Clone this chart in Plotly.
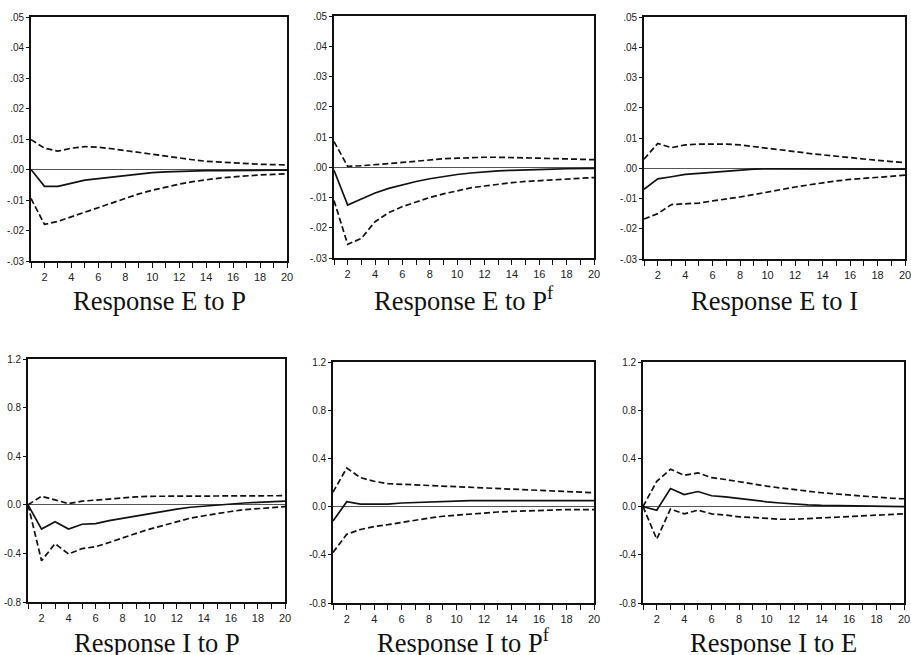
import plotly.graph_objects as go

periods = list(range(1, 21))

# Response E to P
ep_resp = [0.0, -0.0055, -0.0055, -0.0045, -0.0035, -0.003, -0.0025, -0.002, -0.0015, -0.001,
           -0.0008, -0.0006, -0.0005, -0.0004, -0.0004, -0.0003, -0.0003, -0.0002, -0.0002, -0.0002]
ep_upper = [0.0098, 0.007, 0.006, 0.007, 0.0075, 0.0073, 0.0068, 0.0062, 0.0055, 0.0048,
            0.0042, 0.0037, 0.0032, 0.0027, 0.0024, 0.0021, 0.0019, 0.0017, 0.0016, 0.0015]
ep_lower = [-0.0095, -0.018, -0.017, -0.0155, -0.014, -0.0125, -0.011, -0.0095, -0.008, -0.0068,
            -0.0057, -0.0048, -0.004, -0.0033, -0.0028, -0.0024, -0.002, -0.0018, -0.0016, -0.0014]

# Response E to Pf
epf_resp = [-0.001, -0.0125, -0.0105, -0.0085, -0.007, -0.0058, -0.0047, -0.0038, -0.003, -0.0024,
            -0.0019, -0.0015, -0.0012, -0.001, -0.0008, -0.0007, -0.0006, -0.0005, -0.0005, -0.0004]
epf_upper = [0.0085, 0.0003, 0.0005, 0.0008, 0.0012, 0.0016, 0.002, 0.0025, 0.0028, 0.003,
             0.0032, 0.0033, 0.0033, 0.0033, 0.0031, 0.003, 0.0029, 0.0028, 0.0026, 0.0025]
epf_lower = [-0.011, -0.0255, -0.0235, -0.018, -0.015, -0.013, -0.0115, -0.01, -0.0088, -0.0077,
             -0.0068, -0.0062, -0.0056, -0.0051, -0.0047, -0.0044, -0.0041, -0.0038, -0.0036, -0.0034]

# Response E to I
ei_resp = [-0.007, -0.0035, -0.0028, -0.002, -0.0017, -0.0013, -0.001, -0.0006, -0.0003, -0.0002,
           -0.0002, -0.0002, -0.0002, -0.0002, -0.0002, -0.0003, -0.0003, -0.0003, -0.0003, -0.0003]
ei_upper = [0.003, 0.0082, 0.0068, 0.0077, 0.008, 0.008, 0.008, 0.0077, 0.0072, 0.0066,
            0.006, 0.0055, 0.0049, 0.0044, 0.0039, 0.0034, 0.003, 0.0026, 0.0022, 0.0019]
ei_lower = [-0.0168, -0.015, -0.012, -0.0117, -0.0115, -0.0108, -0.0102, -0.0095, -0.0087, -0.0078,
            -0.007, -0.0062, -0.0055, -0.0048, -0.0042, -0.0037, -0.0033, -0.0029, -0.0026, -0.0023]

# Response I to P
ip_resp = [0.0, -0.2, -0.14, -0.2, -0.16, -0.155, -0.13, -0.11, -0.09, -0.07,
           -0.05, -0.035, -0.02, -0.01, 0.0, 0.01, 0.015, 0.02, 0.025, 0.03]
ip_upper = [0.0, 0.07, 0.04, 0.01, 0.03, 0.04, 0.05, 0.06, 0.065, 0.07,
            0.07, 0.07, 0.07, 0.07, 0.07, 0.07, 0.07, 0.07, 0.072, 0.075]
ip_lower = [0.0, -0.46, -0.32, -0.405, -0.36, -0.345, -0.31, -0.27, -0.235, -0.2,
            -0.17, -0.14, -0.11, -0.09, -0.07, -0.055, -0.04, -0.03, -0.02, -0.015]

# Response I to Pf
ipf_resp = [-0.12, 0.04, 0.02, 0.02, 0.02, 0.03, 0.035, 0.04, 0.045, 0.05,
            0.05, 0.05, 0.05, 0.05, 0.05, 0.05, 0.05, 0.05, 0.05, 0.05]
ipf_upper = [0.12, 0.32, 0.24, 0.21, 0.19, 0.185, 0.18, 0.175, 0.17, 0.165,
             0.16, 0.155, 0.15, 0.145, 0.14, 0.135, 0.13, 0.125, 0.12, 0.115]
ipf_lower = [-0.38, -0.23, -0.19, -0.165, -0.15, -0.13, -0.11, -0.095, -0.08, -0.07,
             -0.06, -0.05, -0.045, -0.04, -0.035, -0.03, -0.03, -0.025, -0.025, -0.025]

# Response I to E
ie_resp = [0.0, -0.03, 0.15, 0.1, 0.125, 0.09, 0.08, 0.065, 0.05, 0.04,
           0.03, 0.02, 0.015, 0.01, 0.008, 0.005, 0.003, 0.002, 0.001, 0.0]
ie_upper = [0.0, 0.21, 0.31, 0.26, 0.28, 0.24, 0.225, 0.205, 0.19, 0.17,
            0.155, 0.14, 0.125, 0.115, 0.105, 0.095, 0.085, 0.075, 0.07, 0.065]
ie_lower = [0.0, -0.27, -0.02, -0.06, -0.03, -0.06, -0.07, -0.085, -0.09, -0.1,
            -0.105, -0.105, -0.1, -0.095, -0.09, -0.08, -0.075, -0.07, -0.065, -0.06]

top_ticks = [0.05, 0.04, 0.03, 0.02, 0.01, 0.0, -0.01, -0.02, -0.03]
top_labels = [".05", ".04", ".03", ".02", ".01", ".00", "-.01", "-.02", "-.03"]
bot_ticks = [1.2, 0.8, 0.4, 0.0, -0.4, -0.8]
bot_labels = ["1.2", "0.8", "0.4", "0.0", "-0.4", "-0.8"]
x_labels = [str(p) if p % 2 == 0 else "" for p in periods]

titles = ["Response E to P", "Response E to P<sup>f</sup>", "Response E to I",
          "Response I to P", "Response I to P<sup>f</sup>", "Response I to E"]

panels = [
    (ep_resp, ep_upper, ep_lower),
    (epf_resp, epf_upper, epf_lower),
    (ei_resp, ei_upper, ei_lower),
    (ip_resp, ip_upper, ip_lower),
    (ipf_resp, ipf_upper, ipf_lower),
    (ie_resp, ie_upper, ie_lower),
]

W, H = 911, 655
# plot-area pixel boxes (left, right, top, bottom)
boxes = [
    (31, 287, 17, 261),
    (334, 594, 16, 258),
    (644, 905, 17, 259),
    (28, 285, 359, 602),
    (333, 594, 362, 603),
    (643, 904, 362, 603),
]
# bottom edge of title text boxes (pixels from top)
title_bottom = [318, 318, 318, 660, 660, 660]

fig = go.Figure()
layout = {}
annotations = []
for i, ((resp, up, lo), (l, r, t, b)) in enumerate(zip(panels, boxes)):
    n = i + 1
    xa = "x" if n == 1 else f"x{n}"
    ya = "y" if n == 1 else f"y{n}"
    for series, dash in ((up, "6px,3px"), (lo, "6px,3px"), (resp, "solid")):
        fig.add_trace(go.Scatter(x=periods, y=series, mode="lines", xaxis=xa, yaxis=ya,
                                 line=dict(color="#111111", width=1.7, dash=dash),
                                 showlegend=False, hoverinfo="skip"))
    top = i < 3
    layout["xaxis" if n == 1 else f"xaxis{n}"] = dict(
        domain=[l / W, r / W], anchor=ya, range=[1, 20], automargin=False,
        ticklabeloverflow="allow",
        tickvals=periods, ticktext=x_labels, ticks="outside", ticklen=5,
        tickcolor="#111111", tickwidth=1.2,
        showline=True, linecolor="#111111", linewidth=1.7, mirror=True,
        showgrid=False, zeroline=False,
        tickfont=dict(family="Liberation Sans", size=11, color="#222222"))
    layout["yaxis" if n == 1 else f"yaxis{n}"] = dict(
        domain=[1 - b / H, 1 - t / H], anchor=xa, automargin=False,
        ticklabeloverflow="allow",
        range=[-0.03, 0.05] if top else [-0.8, 1.2],
        tickvals=top_ticks if top else bot_ticks,
        ticktext=top_labels if top else bot_labels,
        ticks="outside", ticklen=3, tickcolor="#111111",
        showline=True, linecolor="#111111", linewidth=1.7, mirror=True,
        showgrid=False, zeroline=True, zerolinecolor="#555555", zerolinewidth=1,
        tickfont=dict(family="Liberation Sans", size=10, color="#222222"))
    annotations.append(dict(
        text=titles[i], x=((l + r) / 2) / W, y=1 - title_bottom[i] / H,
        xref="paper", yref="paper", showarrow=False, xanchor="center", yanchor="bottom",
        font=dict(family="Liberation Serif", size=26.5, color="#111111")))

fig.update_layout(**layout)
fig.update_layout(width=W, height=H, margin=dict(l=0, r=0, t=0, b=0),
                  paper_bgcolor="white", plot_bgcolor="white",
                  annotations=annotations, showlegend=False)

fig.write_html("out.html", config={"displayModeBar": False},
               post_script="document.body.style.margin='0';document.body.style.overflow='hidden';")
